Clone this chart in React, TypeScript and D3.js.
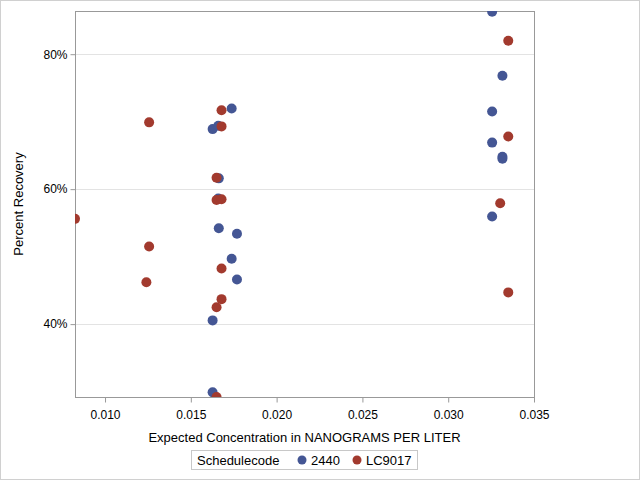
import { useEffect, useRef } from 'react';
import * as d3 from 'd3';

const W = 640;
const H = 480;
const M = { left: 75, right: 106, top: 11, bottom: 83 };

const SERIES = ['2440', 'LC9017'];
const COLORS = ['#445694', '#A23A2E'];

// schedule 2440
const conc2440 = [
  0.03256, 0.03316, 0.03256, 0.01738, 0.01627, 0.0166, 0.03256, 0.03316, 0.03316,
  0.01663, 0.0166, 0.03256, 0.01663, 0.01769, 0.01738, 0.01769, 0.01627, 0.01627,
];
const rec2440 = [
  86.3, 76.8, 71.5, 71.96, 68.9, 69.4, 66.9, 64.8, 64.5,
  61.6, 58.6, 55.96, 54.2, 53.4, 49.7, 46.6, 40.55, 29.9,
];

// schedule LC9017
const concLC = [
  0.0335, 0.01679, 0.01257, 0.01679, 0.0335, 0.0165, 0.03303, 0.0165, 0.01679,
  0.00825, 0.01257, 0.01679, 0.01241, 0.0335, 0.01679, 0.0165, 0.0165,
];
const recLC = [
  82.0, 71.7, 69.9, 69.3, 67.8, 61.7, 57.9, 58.4, 58.5,
  55.6, 51.5, 48.25, 46.2, 44.7, 43.7, 42.5, 29.2,
];

const xTicks = [0.01, 0.015, 0.02, 0.025, 0.03, 0.035];
const yTicks = [40, 60, 80];

export default function App() {
  const ref = useRef<SVGSVGElement>(null);

  useEffect(() => {
    if (!ref.current) return;
    const svg = d3.select(ref.current);
    svg.selectAll('*').remove();

    const x = d3.scaleLinear().domain([0.00825, 0.035]).range([M.left, W - M.right]);
    const y = d3.scaleLinear().domain([29.2, 86.4]).range([H - M.bottom, M.top]);
    const font = '"Liberation Sans", Arial, sans-serif';

    svg.append('rect').attr('x', 0.5).attr('y', 0.5).attr('width', W - 1).attr('height', H - 1)
      .attr('fill', '#fff').attr('stroke', '#d0d0d0');

    svg.append('defs').append('clipPath').attr('id', 'plotclip')
      .append('rect').attr('x', M.left).attr('y', M.top)
      .attr('width', W - M.left - M.right).attr('height', H - M.top - M.bottom);

    // grid
    svg.append('g').selectAll('line').data(yTicks).join('line')
      .attr('x1', M.left).attr('x2', W - M.right)
      .attr('y1', (d) => Math.round(y(d)) + 0.5).attr('y2', (d) => Math.round(y(d)) + 0.5)
      .attr('stroke', '#e3e3e3');

    // axes
    const xAxis = svg.append('g').attr('transform', `translate(0,${H - M.bottom + 0.5})`)
      .call(d3.axisBottom(x).tickValues(xTicks).tickFormat(d3.format('.3f')).tickSizeOuter(0).tickSize(5));
    const yAxis = svg.append('g').attr('transform', `translate(${M.left + 0.5},0)`)
      .call(d3.axisLeft(y).tickValues(yTicks).tickFormat((d) => `${d}%`).tickSizeOuter(0).tickSize(5));
    [xAxis, yAxis].forEach((a) => {
      a.select('.domain').remove();
      a.selectAll('line').attr('stroke', '#999');
      a.selectAll('text').attr('fill', '#000').attr('font-family', font).attr('font-size', 12);
    });
    xAxis.selectAll('text').attr('dy', '1.1em');

    // frame
    svg.append('rect').attr('x', M.left + 0.5).attr('y', M.top + 0.5)
      .attr('width', W - M.left - M.right).attr('height', H - M.top - M.bottom)
      .attr('fill', 'none').attr('stroke', '#999');

    // points
    const data = [
      conc2440.map((c, i) => ({ c, r: rec2440[i], s: 0 })),
      concLC.map((c, i) => ({ c, r: recLC[i], s: 1 })),
    ].flat();
    svg.append('g').attr('clip-path', 'url(#plotclip)')
      .selectAll('circle').data(data).join('circle')
      .attr('cx', (d) => x(d.c)).attr('cy', (d) => y(d.r)).attr('r', 5)
      .attr('fill', (d) => COLORS[d.s]);

    // axis labels
    svg.append('text').attr('x', (M.left + W - M.right) / 2).attr('y', 442)
      .attr('text-anchor', 'middle').attr('font-family', font).attr('font-size', 13)
      .text('Expected Concentration in NANOGRAMS PER LITER');
    svg.append('text').attr('transform', `translate(23,${(M.top + H - M.bottom) / 2}) rotate(-90)`)
      .attr('text-anchor', 'middle').attr('font-family', font).attr('font-size', 13)
      .text('Percent Recovery');

    // legend
    const lg = svg.append('g');
    lg.append('rect').attr('x', 191.5).attr('y', 450.5).attr('width', 226).attr('height', 19)
      .attr('fill', 'none').attr('stroke', '#c8c8c8');
    lg.append('text').attr('x', 197).attr('y', 465).attr('font-family', font).attr('font-size', 13)
      .text('Schedulecode');
    const lx = [302, 357];
    SERIES.forEach((s, i) => {
      lg.append('circle').attr('cx', lx[i]).attr('cy', 460).attr('r', 4.5).attr('fill', COLORS[i]);
      lg.append('text').attr('x', lx[i] + 9).attr('y', 465).attr('font-family', font).attr('font-size', 13)
        .text(s);
    });
  }, []);

  return (
    <svg ref={ref} width={W} height={H} style={{ position: 'absolute', left: 0, top: 0 }} />
  );
}
